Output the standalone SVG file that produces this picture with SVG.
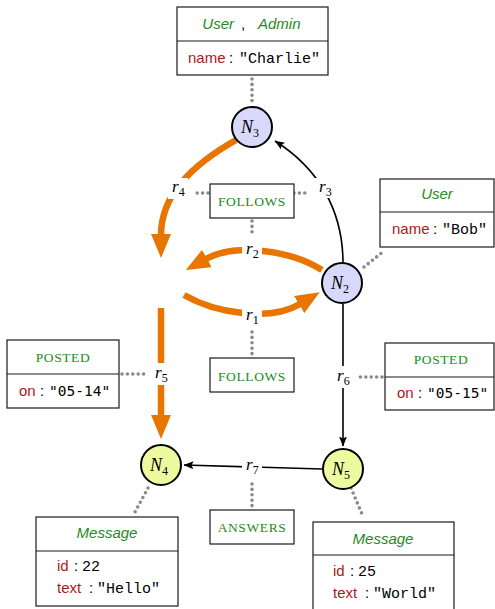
<svg xmlns="http://www.w3.org/2000/svg" width="495" height="609" viewBox="0 0 495 609">
  <style>
    .box { fill: #ffffff; stroke: #1a1a1a; stroke-width: 1.2; }
    .div { stroke: #1a1a1a; stroke-width: 1.2; }
    .type { font-family: "Liberation Sans", "DejaVu Sans", sans-serif; font-style: italic; font-size: 15px; fill: #228b22; }
    .rel { font-family: "Liberation Serif", "DejaVu Serif", serif; font-size: 13.5px; letter-spacing: 0.6px; fill: #228b22; }
    .key { font-family: "Liberation Sans", "DejaVu Sans", sans-serif; font-size: 15px; fill: #b01818; }
    .sep { font-family: "Liberation Sans", "DejaVu Sans", sans-serif; font-size: 15px; fill: #000; }
    .val { font-family: "Liberation Mono", "DejaVu Sans Mono", monospace; font-size: 15px; fill: #000; }
    .sval { font-family: "DejaVu Sans Mono", "Liberation Mono", monospace; font-size: 14.5px; fill: #000; }
    .math { font-family: "Liberation Serif", "DejaVu Serif", serif; font-style: italic; font-size: 17px; fill: #000; }
    .big { font-size: 18px; }
    .sub { font-style: normal; font-size: 12px; }
    .node1 { fill: #d8d8fa; stroke: #000; stroke-width: 2; }
    .node2 { fill: #eefaa0; stroke: #000; stroke-width: 2; }
    .dots { fill: none; stroke: #8a8a8a; stroke-width: 3.6; stroke-linecap: round; stroke-dasharray: 0 5.4; }
    .thick { fill: none; stroke: #e87500; stroke-width: 6.5; }
    .thin { fill: none; stroke: #000; stroke-width: 1.6; }
    .lblbg { fill: #ffffff; }
  </style>
  <defs>
    <marker id="bigHead" markerUnits="userSpaceOnUse" viewBox="0 0 24 20" refX="1" refY="10" markerWidth="24" markerHeight="20" orient="auto">
      <path d="M0,0 L24,10 L0,20 Z" fill="#e87500"/>
    </marker>
    <marker id="smallHead" markerUnits="userSpaceOnUse" viewBox="0 0 10 8" refX="9.5" refY="4" markerWidth="10" markerHeight="8" orient="auto">
      <path d="M0,0 L10,4 L0,8 L2,4 Z" fill="#000"/>
    </marker>
  </defs>

  <!-- connectors: relationships, label leaders and property leaders -->
  <g id="connectors">
    <!-- thick relationships -->
    <path class="thick" d="M236,140 C192,165 161,195 161,235" marker-end="url(#bigHead)"/>
    <path class="thick" d="M322,270 C290,250 235,243 206,259" marker-end="url(#bigHead)"/>
    <path class="thick" d="M184,295 C215,313 270,322 300,304" marker-end="url(#bigHead)"/>
    <path class="thick" d="M161,308 L161,416" marker-end="url(#bigHead)"/>
    <!-- thin relationships -->
    <path class="thin" d="M343,263 C343,210 318,168 275,141" marker-end="url(#smallHead)"/>
    <path class="thin" d="M343,304 L343,446" marker-end="url(#smallHead)"/>
    <path class="thin" d="M322,469 L184,465" marker-end="url(#smallHead)"/>

    <!-- dotted leaders -->
    <path class="dots" d="M252,79 L252,101"/>
    <path class="dots" d="M364,267 L384,251"/>
    <path class="dots" d="M208,193 L194,193"/>
    <path class="dots" d="M294,193 L310,193"/>
    <path class="dots" d="M252,221 L252,236"/>
    <path class="dots" d="M252,332 L252,355"/>
    <path class="dots" d="M122,374 L146,374"/>
    <path class="dots" d="M382,377 L358,377"/>
    <path class="dots" d="M252,484 L252,506"/>
    <path class="dots" d="M148,488 L135,512"/>
    <path class="dots" d="M351,488 L362,514"/>

    <!-- relationship labels -->
    <g id="r1"><rect class="lblbg" x="242" y="305" width="20" height="20"/><text class="math" x="246" y="320">r<tspan class="sub" dy="4">1</tspan></text></g>
    <g id="r2"><rect class="lblbg" x="242" y="239" width="20" height="21"/><text class="math" x="246" y="254">r<tspan class="sub" dy="4">2</tspan></text></g>
    <g id="r3"><rect class="lblbg" x="315" y="178" width="20" height="20"/><text class="math" x="319" y="192">r<tspan class="sub" dy="4">3</tspan></text></g>
    <g id="r4"><rect class="lblbg" x="168" y="178" width="20" height="21"/><text class="math" x="172" y="192">r<tspan class="sub" dy="4">4</tspan></text></g>
    <g id="r5"><rect class="lblbg" x="151" y="363" width="20" height="22"/><text class="math" x="155" y="378">r<tspan class="sub" dy="4">5</tspan></text></g>
    <g id="r6"><rect class="lblbg" x="333" y="366" width="20" height="22"/><text class="math" x="337" y="381">r<tspan class="sub" dy="4">6</tspan></text></g>
    <g id="r7"><rect class="lblbg" x="242" y="456" width="20" height="20"/><text class="math" x="246" y="470">r<tspan class="sub" dy="4">7</tspan></text></g>
  </g>

  <!-- nodes -->
  <g id="N3">
    <circle class="node1" cx="252" cy="127" r="20"/>
    <text class="math big" x="241" y="133">N<tspan class="sub" dy="4">3</tspan></text>
  </g>
  <g id="N2">
    <circle class="node1" cx="342" cy="283" r="20"/>
    <text class="math big" x="331" y="289">N<tspan class="sub" dy="4">2</tspan></text>
  </g>
  <g id="N4">
    <circle class="node2" cx="161" cy="465" r="20"/>
    <text class="math big" x="150" y="471">N<tspan class="sub" dy="4">4</tspan></text>
  </g>
  <g id="N5">
    <circle class="node2" cx="343" cy="469" r="20"/>
    <text class="math big" x="332" y="475">N<tspan class="sub" dy="4">5</tspan></text>
  </g>

  <!-- property boxes -->
  <g id="charlie">
    <rect class="box" x="177" y="7" width="151" height="68"/>
    <line class="div" x1="177" y1="41" x2="328" y2="41"/>
    <text class="type" x="234" y="29" text-anchor="end">User</text>
    <text class="sep" x="243" y="29" text-anchor="middle">,</text>
    <text class="type" x="258" y="29">Admin</text>
    <text x="188" y="63"><tspan class="key">name</tspan><tspan class="sep" x="229">:</tspan><tspan class="val" x="239">"Charlie"</tspan></text>
  </g>
  <g id="bob">
    <rect class="box" x="380" y="179" width="114" height="68"/>
    <line class="div" x1="380" y1="212" x2="494" y2="212"/>
    <text class="type" x="437" y="199" text-anchor="middle">User</text>
    <text x="392" y="234"><tspan class="key">name</tspan><tspan class="sep" x="433">:</tspan><tspan class="val" x="442">"Bob"</tspan></text>
  </g>
  <g id="follows1">
    <rect class="box" x="210" y="184" width="84" height="34"/>
    <text class="rel" x="252" y="206" text-anchor="middle">FOLLOWS</text>
  </g>
  <g id="follows2">
    <rect class="box" x="210" y="358" width="84" height="34"/>
    <text class="rel" x="252" y="381" text-anchor="middle">FOLLOWS</text>
  </g>
  <g id="posted1">
    <rect class="box" x="7" y="340" width="112" height="68"/>
    <line class="div" x1="7" y1="374" x2="119" y2="374"/>
    <text class="rel" x="63" y="362" text-anchor="middle">POSTED</text>
    <text x="19" y="396"><tspan class="key">on</tspan><tspan class="sep" x="40">:</tspan><tspan class="sval" x="49">"05-14"</tspan></text>
  </g>
  <g id="posted2">
    <rect class="box" x="385" y="343" width="109" height="67"/>
    <line class="div" x1="385" y1="377" x2="494" y2="377"/>
    <text class="rel" x="441" y="364" text-anchor="middle">POSTED</text>
    <text x="397" y="398"><tspan class="key">on</tspan><tspan class="sep" x="418">:</tspan><tspan class="sval" x="427">"05-15"</tspan></text>
  </g>
  <g id="answers">
    <rect class="box" x="210" y="510" width="84" height="34"/>
    <text class="rel" x="252" y="532" text-anchor="middle">ANSWERS</text>
  </g>
  <g id="hello">
    <rect class="box" x="36" y="517" width="142" height="89"/>
    <line class="div" x1="36" y1="551" x2="178" y2="551"/>
    <text class="type" x="107" y="538" text-anchor="middle">Message</text>
    <text x="57" y="571"><tspan class="key">id</tspan><tspan class="sep" x="74">:</tspan><tspan class="val" x="82">22</tspan></text>
    <text x="57" y="593"><tspan class="key">text</tspan><tspan class="sep" x="89">:</tspan><tspan class="val" x="97">"Hello"</tspan></text>
  </g>
  <g id="world">
    <rect class="box" x="313" y="522" width="141" height="90"/>
    <line class="div" x1="313" y1="555" x2="454" y2="555"/>
    <text class="type" x="383" y="544" text-anchor="middle">Message</text>
    <text x="333" y="576"><tspan class="key">id</tspan><tspan class="sep" x="350">:</tspan><tspan class="val" x="358">25</tspan></text>
    <text x="333" y="598"><tspan class="key">text</tspan><tspan class="sep" x="365">:</tspan><tspan class="val" x="373">"World"</tspan></text>
  </g>
</svg>
